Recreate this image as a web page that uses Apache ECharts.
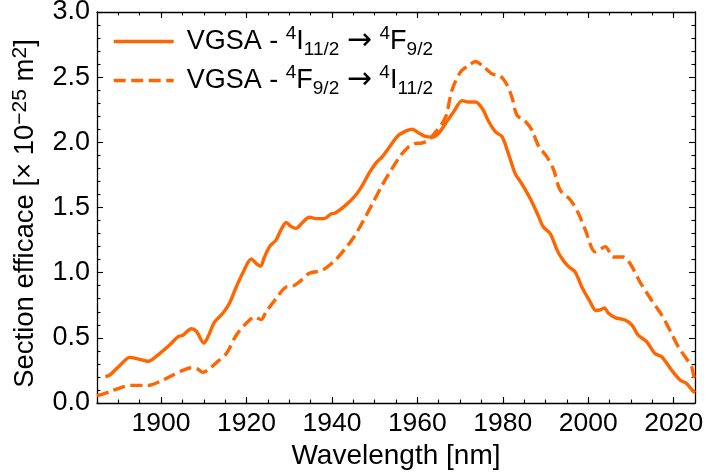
<!DOCTYPE html>
<html><head><meta charset="utf-8">
<script src="https://cdn.jsdelivr.net/npm/echarts@6/dist/echarts.min.js"></script>
<style>html,body{margin:0;padding:0;background:#fff}#c{width:706px;height:472px}</style>
</head><body><div id="c"></div>
<script>
// ---- data ----
const xMajorTicks = [1900, 1920, 1940, 1960, 1980, 2000, 2020];
const xMinorTicks = [1885, 1890, 1895, 1900, 1905, 1910, 1915, 1920, 1925, 1930, 1935, 1940, 1945, 1950, 1955, 1960, 1965, 1970, 1975, 1980, 1985, 1990, 1995, 2000, 2005, 2010, 2015, 2020, 2025];
const yMajorTicks = [0, 0.5, 1.0, 1.5, 2.0, 2.5, 3.0];

const seriesNames = ['VGSA - 4I11/2 → 4F9/2', 'VGSA - 4F9/2 → 4I11/2'];
const legendLabels = [
  'VGSA - {sup|4}I{sub|11/2} {arr|→} {sup|4}F{sub|9/2}',
  'VGSA - {sup|4}F{sub|9/2} {arr|→} {sup|4}I{sub|11/2}'
];
const xTitle = 'Wavelength [nm]';
const yTitle = 'Section efficace [× 10{sup|−25} m{sup|2}]';

const solidX = [1887.0, 1888.2, 1890.4, 1892.7, 1895.0, 1897.0, 1899.3, 1902.0, 1904.0, 1905.1, 1907.1, 1908.3, 1910.0, 1911.0, 1912.5, 1914.5, 1916.0, 1917.6, 1919.1, 1921.1, 1922.3, 1923.3, 1924.2, 1925.4, 1926.9, 1928.1, 1929.3, 1930.4, 1931.6, 1933.1, 1934.7, 1936.3, 1938.2, 1939.8, 1940.9, 1943.3, 1945.6, 1947.2, 1948.7, 1950.3, 1951.8, 1953.8, 1955.3, 1956.9, 1958.8, 1960.4, 1961.9, 1963.5, 1965.0, 1966.6, 1968.5, 1970.5, 1971.7, 1973.6, 1975.2, 1976.7, 1978.3, 1979.8, 1981.4, 1982.9, 1984.3, 1985.3, 1986.8, 1988.4, 1989.5, 1991.1, 1992.7, 1993.8, 1995.4, 1996.9, 1998.5, 2000.4, 2001.8, 2002.8, 2003.8, 2004.7, 2006.3, 2008.6, 2010.2, 2011.7, 2013.7, 2015.6, 2017.2, 2019.5, 2021.5, 2023.0, 2024.3, 2025.0];
const solidY = [0.20, 0.22, 0.29, 0.35, 0.335, 0.32, 0.37, 0.445, 0.51, 0.52, 0.57, 0.55, 0.46, 0.51, 0.62, 0.69, 0.765, 0.89, 0.995, 1.105, 1.07, 1.05, 1.12, 1.20, 1.25, 1.33, 1.385, 1.355, 1.34, 1.385, 1.425, 1.415, 1.415, 1.45, 1.46, 1.52, 1.596, 1.673, 1.763, 1.84, 1.89, 1.98, 2.045, 2.08, 2.10, 2.07, 2.045, 2.04, 2.07, 2.145, 2.235, 2.32, 2.31, 2.31, 2.26, 2.16, 2.08, 2.045, 1.905, 1.76, 1.69, 1.635, 1.545, 1.43, 1.35, 1.30, 1.175, 1.11, 1.046, 1.008, 0.89, 0.78, 0.71, 0.714, 0.73, 0.69, 0.655, 0.637, 0.60, 0.52, 0.47, 0.38, 0.355, 0.253, 0.177, 0.15, 0.10, 0.08];

const dashX = [1885.0, 1888.0, 1890.8, 1892.7, 1897.0, 1899.7, 1902.8, 1905.1, 1907.1, 1908.6, 1909.8, 1911.0, 1913.3, 1915.3, 1917.6, 1919.9, 1921.9, 1923.4, 1924.6, 1926.9, 1929.3, 1930.8, 1932.4, 1934.7, 1937.8, 1940.9, 1943.0, 1945.2, 1947.2, 1949.5, 1951.8, 1954.1, 1956.1, 1957.6, 1959.2, 1961.1, 1962.7, 1964.3, 1965.8, 1966.8, 1968.1, 1970.1, 1972.0, 1973.6, 1975.5, 1977.5, 1979.4, 1981.0, 1982.2, 1983.3, 1985.3, 1986.8, 1988.4, 1990.3, 1991.9, 1993.4, 1995.8, 1997.7, 1999.3, 2001.6, 2002.8, 2004.0, 2005.9, 2008.2, 2009.8, 2012.1, 2014.8, 2017.2, 2019.1, 2021.1, 2023.0, 2024.2, 2025.0];
const dashY = [0.054, 0.087, 0.12, 0.135, 0.135, 0.165, 0.215, 0.25, 0.27, 0.26, 0.235, 0.255, 0.32, 0.38, 0.52, 0.61, 0.66, 0.64, 0.70, 0.80, 0.89, 0.895, 0.93, 0.995, 1.02, 1.10, 1.18, 1.276, 1.39, 1.53, 1.673, 1.80, 1.90, 1.955, 1.99, 1.995, 2.02, 2.08, 2.145, 2.21, 2.40, 2.54, 2.59, 2.62, 2.58, 2.525, 2.51, 2.44, 2.34, 2.21, 2.16, 2.095, 1.97, 1.89, 1.79, 1.635, 1.56, 1.455, 1.33, 1.16, 1.18, 1.20, 1.12, 1.12, 1.07, 0.93, 0.79, 0.675, 0.56, 0.43, 0.34, 0.28, 0.15];

// ---- chart ----
const FONT = '"Liberation Sans", Arial, sans-serif';
const ORANGE = '#ff6600';
const pairs = (xs, ys) => xs.map((x, i) => [x, ys[i]]);

function xAxisDef(position, major, showLabel) {
  return {
    type: 'value', min: 1885, max: 2025, position: position, gridIndex: 0,
    splitLine: { show: false },
    axisLine: { show: major, lineStyle: { color: '#000', width: 1.3 } },
    axisTick: { show: true, inside: true, length: major ? 6 : 3.5,
      customValues: major ? xMajorTicks : xMinorTicks,
      lineStyle: { color: '#000', width: 1.1 } },
    axisLabel: { show: showLabel, customValues: xMajorTicks, margin: 7,
      formatter: v => String(v),
      fontSize: 26.5, fontFamily: FONT, color: '#000' },
    name: showLabel ? xTitle : '', nameLocation: 'middle', nameGap: 36,
    nameTextStyle: { fontSize: 28, fontFamily: FONT, color: '#000' }
  };
}
function yAxisDef(position, showLabel) {
  return {
    type: 'value', min: 0, max: 3, interval: 0.5, position: position, gridIndex: 0,
    splitLine: { show: false },
    axisLine: { show: true, lineStyle: { color: '#000', width: 1.3 } },
    axisTick: { show: true, inside: true, length: 6, lineStyle: { color: '#000', width: 1.1 } },
    minorTick: { show: true, splitNumber: 5, length: 3.5, lineStyle: { color: '#000', width: 1.1 } },
    axisLabel: { show: showLabel, margin: 7, fontSize: 27, fontFamily: FONT, color: '#000',
      formatter: v => yMajorTicks.indexOf(v) >= 0 ? v.toFixed(1) : '' },
    name: showLabel ? yTitle : '', nameLocation: 'middle', nameGap: 43, nameRotate: 90,
    nameTextStyle: { fontSize: 27.5, fontFamily: FONT, color: '#000', lineHeight: 32, padding: [0, 12, 0, 0],
      rich: { sup: { fontSize: 21, fontFamily: FONT, color: '#000', verticalAlign: 'top', lineHeight: 21 } } }
  };
}

const chart = echarts.init(document.getElementById('c'), null, { renderer: 'canvas' });
chart.setOption({
  backgroundColor: '#fff',
  animation: false,
  grid: { left: 97, right: 11, top: 12, bottom: 69, containLabel: false, outerBoundsMode: 'none' },
  xAxis: [
    xAxisDef('bottom', true, true),
    xAxisDef('bottom', false, false),
    xAxisDef('top', true, false),
    xAxisDef('top', false, false)
  ],
  yAxis: [ yAxisDef('left', true), yAxisDef('right', false) ],
  legend: {
    orient: 'vertical', left: 112, top: 24, padding: 0,
    itemWidth: 60, itemHeight: 20, itemGap: 4,
    itemStyle: { opacity: 0 },
    lineStyle: { width: 3.4 },
    data: seriesNames,
    formatter: name => legendLabels[seriesNames.indexOf(name)],
    textStyle: { fontSize: 27, fontFamily: FONT, color: '#000', lineHeight: 35, padding: [0, 0, 0, 8],
      rich: {
        sup: { fontSize: 19, fontFamily: FONT, color: '#000', verticalAlign: 'top', lineHeight: 19 },
        sub: { fontSize: 19, fontFamily: FONT, color: '#000', verticalAlign: 'bottom', lineHeight: 19 },
        arr: { fontSize: 30, fontFamily: '"DejaVu Sans", sans-serif', color: '#000', lineHeight: 35 }
      } }
  },
  series: [
    { name: seriesNames[0], type: 'line', xAxisIndex: 0, yAxisIndex: 0, data: pairs(solidX, solidY),
      symbol: 'none', smooth: 0.3, lineStyle: { color: ORANGE, width: 3.4, type: 'solid' },
      itemStyle: { color: ORANGE } },
    { name: seriesNames[1], type: 'line', xAxisIndex: 0, yAxisIndex: 0, data: pairs(dashX, dashY),
      symbol: 'none', smooth: 0.3, lineStyle: { color: ORANGE, width: 3.4, type: [12, 5.5] },
      itemStyle: { color: ORANGE } }
  ]
});
</script></body></html>
